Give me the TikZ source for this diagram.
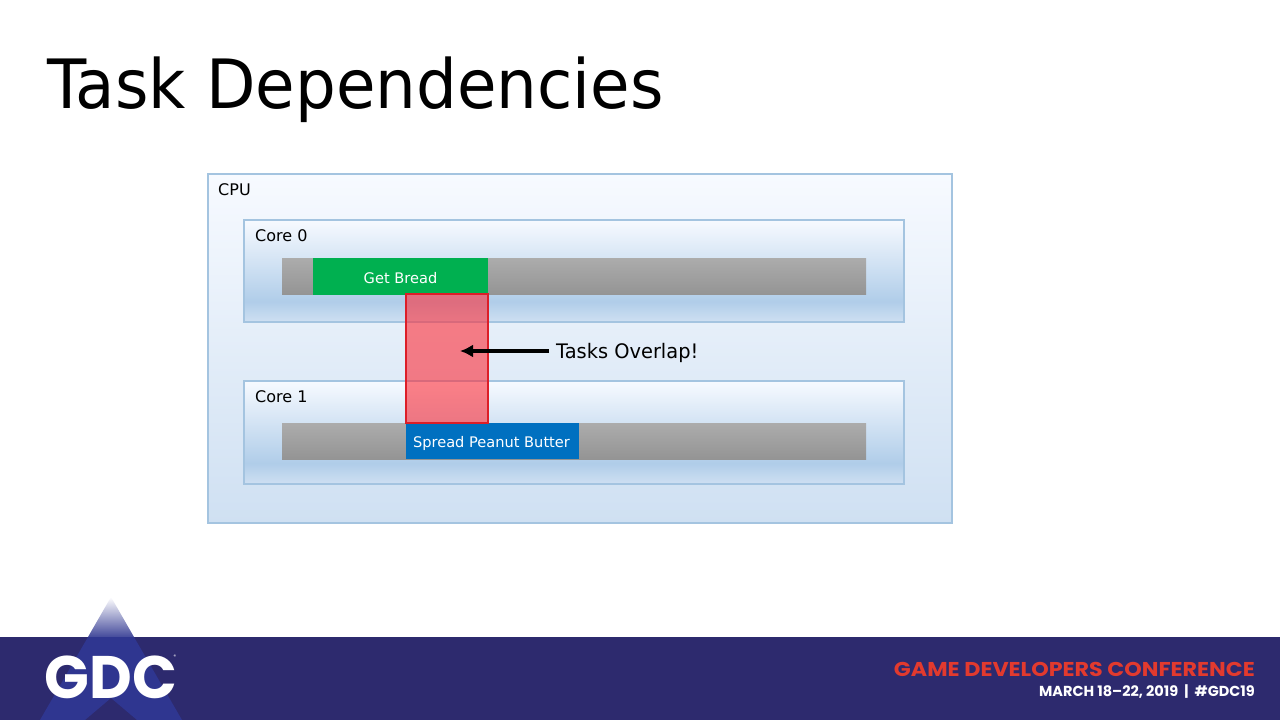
\documentclass[tikz,border=0pt]{standalone}
\usepackage{fontspec}
\setmainfont{DejaVu Sans}
\newfontfamily\footfont{Poppins}
\usetikzlibrary{positioning, arrows.meta}

\definecolor{cpufill}{RGB}{207, 224, 242}
\definecolor{cputop}{RGB}{247, 250, 255}
\definecolor{boxline}{RGB}{164, 196, 224}
\definecolor{coremid}{RGB}{176, 205, 233}
\definecolor{bartop}{RGB}{172, 172, 172}
\definecolor{barbottom}{RGB}{148, 148, 148}
\definecolor{taskgreen}{RGB}{0, 176, 80}
\definecolor{taskblue}{RGB}{0, 112, 192}
\definecolor{overlapred}{RGB}{255, 40, 50}
\definecolor{overlapline}{RGB}{220, 30, 40}
\definecolor{gdcband}{RGB}{45, 42, 110}
\definecolor{gdctri}{RGB}{47, 54, 144}
\definecolor{gdcred}{RGB}{226, 58, 46}

\pgfdeclareverticalshading{coreshade}{100bp}{color(0bp)=(cpufill); color(25bp)=(cpufill); color(35bp)=(coremid); color(75bp)=(cputop); color(100bp)=(cputop)}

\tikzset{
    boxlabel/.style={inner sep=0pt, anchor=base west, font=\fontsize{16}{16}\selectfont},
    cpubox/.style={draw=boxline, line width=2pt, outer sep=0pt, top color=cputop, bottom color=cpufill, inner sep=0pt, anchor=north west},
    corebox/.style={draw=boxline, line width=2pt, outer sep=0pt, shading=coreshade, inner sep=0pt, anchor=north west},
    barbox/.style={top color=bartop, bottom color=barbottom, outer sep=0pt, inner sep=0pt, anchor=north west},
    taskbox/.style={outer sep=0pt, inner sep=0pt, anchor=north west},
    tasklabel/.style={text=white, inner sep=0pt, anchor=base, font=\fontsize{14.6}{14.6}\selectfont},
}

\begin{document}
\begin{tikzpicture}[x=1pt, y=-1pt]

    \useasboundingbox (0,0) rectangle (1280,720);

    % title
    \node (title) at (47,108) [inner sep=0pt, anchor=base west, xscale=0.945, transform shape, font=\fontsize{68}{68}\selectfont] {Task Dependencies};

    % cpu
    \node (cpu) at (208,174) [cpubox, minimum width=744pt, minimum height=349pt] {};
    \node (cpulabel) at (218,195) [boxlabel] {CPU};

    % core 0
    \node (core0) at (244,220) [corebox, minimum width=660pt, minimum height=102pt] {};
    \node (core0label) at (255,241) [boxlabel] {Core 0};
    \node (bar0) at (282,258) [barbox, minimum width=584pt, minimum height=36.5pt] {};
    \node (bread) at (313,258) [taskbox, fill=taskgreen, minimum width=175pt, minimum height=36.5pt] {};
    \node (breadlabel) at (400.5,283) [tasklabel] {Get Bread};

    % core 1
    \node (core1) at (244,381) [corebox, minimum width=660pt, minimum height=103pt] {};
    \node (core1label) at (255,402) [boxlabel] {Core 1};
    \node (bar1) at (282,423) [barbox, minimum width=584pt, minimum height=36pt] {};
    \node (butter) at (406,423) [taskbox, fill=taskblue, minimum width=173pt, minimum height=36pt] {};
    \node (butterlabel) at (491.5,447) [tasklabel] {Spread Peanut Butter};

    % overlap
    \node (overlap) at (406,294) [draw=overlapline, line width=2pt, outer sep=0pt, fill=overlapred, fill opacity=0.58, inner sep=0pt, anchor=north west, minimum width=82pt, minimum height=129pt] {};
    \node (overlaplabel) at (556,358) [inner sep=0pt, anchor=base west, xscale=0.97, transform shape, font=\fontsize{20}{20}\selectfont] {Tasks Overlap!};
    \coordinate (arrowtip) at (460,351);
    \coordinate (arrowtail) at (549,351);
    \draw [-{Latex[length=13pt, width=13pt]}, line width=3.6pt] (arrowtail) -- (arrowtip);

    % footer
    \fill [gdcband] (0,637) rectangle (1280,720);
    \shade [top color=white, bottom color=gdctri!90!white] (111,597) -- (88,637) -- (134,637) -- cycle;
    \fill [gdctri] (88,637) -- (134,637) -- (182,720) -- (137,720) -- (111,698) -- (85,720) -- (40,720) -- cycle;
    \node (gdc) at (111,677) [text=white, inner sep=0pt, xscale=0.98, transform shape, font=\footfont\bfseries\fontsize{60}{60}\selectfont] {GDC};
    \node (gdcmark) at (175,657) [text=white, inner sep=0pt, font=\footfont\fontsize{5}{5}\selectfont] {®};
    \node (gamedev) at (1255,669) [text=gdcred, inner sep=0pt, anchor=east, xscale=1.11, transform shape, font=\footfont\bfseries\fontsize{20}{20}\selectfont] {GAME DEVELOPERS CONFERENCE};
    \node (march) at (1255,692) [text=white, inner sep=0pt, anchor=east, font=\footfont\bfseries\fontsize{14.5}{14.5}\selectfont] {MARCH 18–22, 2019\ \ |\ \ \#GDC19};

\end{tikzpicture}
\end{document}
